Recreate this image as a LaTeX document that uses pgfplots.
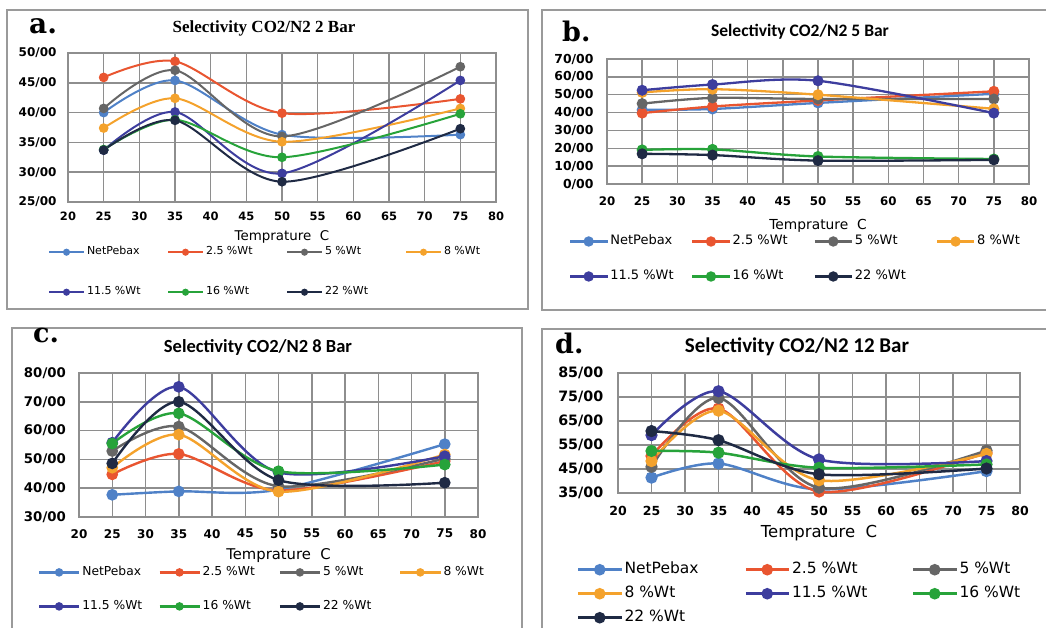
\documentclass[border=0pt]{standalone}
\usepackage{fontspec}
\setmainfont{DejaVu Sans}
\newfontfamily\serifb{Liberation Serif}
\newfontfamily\letf{DejaVu Serif}
\newfontfamily\carl{Carlito}
\usepackage{pgfplots}
\pgfplotsset{compat=1.18}
\newcommand\fs[1]{\fontsize{#1}{#1}\selectfont}
\definecolor{cNet}{HTML}{4F81C7}
\definecolor{cA}{HTML}{E95530}
\definecolor{cB}{HTML}{666666}
\definecolor{cC}{HTML}{F4A22C}
\definecolor{cD}{HTML}{3D3D9E}
\definecolor{cE}{HTML}{27A33A}
\definecolor{cF}{HTML}{1F2A44}
\definecolor{gridc}{HTML}{8E8E8E}
\definecolor{boxc}{HTML}{9A9A9A}
\pgfplotsset{
  panel/.style={
    scale only axis, anchor=south west,
    xmin=20, xmax=80, xtick={20,25,...,80},
    xticklabels={20,25,30,35,40,45,50,55,60,65,70,75,80},
    xmajorgrids=true, ymajorgrids=true,
    major grid style={draw=gridc, line width=1.5pt},
    axis line style={draw=gridc, line width=1.5pt},
    tick style={draw=none},
    clip=false,
    legend cell align=left,
    legend style={draw=none, fill=none, inner sep=0pt, outer sep=0pt, anchor=north west,
      /tikz/every odd column/.append style={column sep=2pt},
      nodes={inner sep=0pt}},
  },
  leg/.style n args={3}{legend image code/.code={\draw[mark repeat=2,mark phase=2,##1,mark size=#3] plot coordinates {(0pt,0pt) (#1,0pt) (#2,0pt)};}},
}
\begin{document}
\begin{tikzpicture}
\useasboundingbox (0pt,0pt) rectangle (1046pt,628pt);
% panel boxes
\draw[boxc, line width=1.5pt] (7pt,319pt) rectangle (528pt,618pt);
\draw[boxc, line width=1.5pt] (542pt,318pt) rectangle (1052pt,618pt);
\draw[boxc, line width=1.5pt] (12pt,-5pt) rectangle (522pt,300pt);
\draw[boxc, line width=1.5pt] (542pt,-5pt) rectangle (1052pt,299pt);

% ---------------- panel a
\begin{axis}[panel, at={(68pt,426pt)}, width=428pt, height=149pt,
  ymin=25, ymax=50, ytick={25,30,...,50},
  yticklabels={25/00,30/00,35/00,40/00,45/00,50/00},
  yticklabel style={font=\bfseries\fs{12}, xshift=-8pt},
  xticklabel style={font=\bfseries\fs{11.5}, yshift=-6.5pt},
  every axis plot/.append style={smooth, line width=2pt, mark=*, mark size=3.8pt},
  leg={17.5pt}{35pt}{2.5pt},
  legend columns=4,
  legend style={at={(-0.0467,-0.300)}, font=\fs{11},
    nodes={text height=8.25pt, text depth=2.75pt},
    /tikz/every even column/.append style={column sep=0pt},
    row sep=29pt},
]
\addplot[cNet] coordinates {(25,40.0) (35,45.4) (50,36.3) (75,36.3)};
\addplot[cA] coordinates {(25,45.9) (35,48.6) (50,39.9) (75,42.3)};
\addplot[cB] coordinates {(25,40.7) (35,47.1) (50,36.0) (75,47.7)};
\addplot[cC] coordinates {(25,37.4) (35,42.4) (50,35.1) (75,40.7)};
\addplot[cD] coordinates {(25,33.7) (35,40.1) (50,29.8) (75,45.4)};
\addplot[cE] coordinates {(25,33.8) (35,38.8) (50,32.5) (75,39.8)};
\addplot[cF] coordinates {(25,33.7) (35,38.7) (50,28.4) (75,37.3)};
\legend{\makebox[80pt][l]{NetPebax},\makebox[80pt][l]{2.5 \%Wt},\makebox[80pt][l]{5 \%Wt},\makebox[80pt][l]{8 \%Wt},\makebox[80pt][l]{11.5 \%Wt},\makebox[80pt][l]{16 \%Wt},\makebox[80pt][l]{22 \%Wt}}
\end{axis}
\node[anchor=base west, font=\letf\bfseries\fs{28}, inner sep=0pt] at (29pt,594pt) {a.};
\node[anchor=base, font=\serifb\bfseries\fs{17}, inner sep=0pt] at (264pt,595pt) {Selectivity CO2/N2 2 Bar};
\node[anchor=base, font=\fs{13.4}, inner sep=0pt] at (282pt,387pt) {Temprature~ C};

% ---------------- panel b
\begin{axis}[panel, at={(607pt,444pt)}, width=422pt, height=125pt,
  ymin=0, ymax=70, ytick={0,10,...,70},
  yticklabels={0/00,10/00,20/00,30/00,40/00,50/00,60/00,70/00},
  yticklabel style={font=\bfseries\fs{12.4}, xshift=-10pt},
  xticklabel style={font=\bfseries\fs{11.8}, yshift=-9.5pt},
  every axis plot/.append style={smooth, line width=2.3pt, mark=*, mark size=4.3pt},
  leg={18.5pt}{37pt}{4pt},
  legend columns=4,
  legend style={at={(-0.090,-0.408)}, font=\fs{13},
    nodes={text height=9.75pt, text depth=3.25pt},
    /tikz/every even column/.append style={column sep=0pt},
    row sep=22pt},
]
\addplot[cNet] coordinates {(25,41.5) (35,42.0) (50,45.4) (75,50.5)};
\addplot[cA] coordinates {(25,39.7) (35,43.4) (50,46.8) (75,51.9)};
\addplot[cB] coordinates {(25,45.0) (35,48.2) (50,47.6) (75,47.6)};
\addplot[cC] coordinates {(25,51.3) (35,53.1) (50,50.0) (75,42.1)};
\addplot[cD] coordinates {(25,52.5) (35,55.7) (50,57.8) (75,39.7)};
\addplot[cE] coordinates {(25,19.1) (35,19.4) (50,15.4) (75,14.0)};
\addplot[cF] coordinates {(25,16.9) (35,16.2) (50,13.1) (75,13.5)};
\legend{\makebox[81pt][l]{NetPebax},\makebox[81pt][l]{2.5 \%Wt},\makebox[81pt][l]{5 \%Wt},\makebox[81pt][l]{8 \%Wt},\makebox[81pt][l]{11.5 \%Wt},\makebox[81pt][l]{16 \%Wt},\makebox[81pt][l]{22 \%Wt}}
\end{axis}
\node[anchor=base west, font=\letf\bfseries\fs{27}, inner sep=0pt] at (562pt,586pt) {b.};
\node[anchor=base, font=\carl\bfseries\fs{17.5}, inner sep=0pt] at (800pt,591pt) {Selectivity CO2/N2 5 Bar};
\node[anchor=base, font=\fs{13.8}, inner sep=0pt] at (818pt,398pt) {Temprature~ C};

% ---------------- panel c
\begin{axis}[panel, at={(79pt,111pt)}, width=399pt, height=144pt,
  ymin=30, ymax=80, ytick={30,40,...,80},
  yticklabels={30/00,40/00,50/00,60/00,70/00,80/00},
  yticklabel style={font=\bfseries\fs{13.3}, xshift=-9.6pt},
  xticklabel style={font=\bfseries\fs{12}, yshift=-8.6pt},
  every axis plot/.append style={smooth, line width=2.4pt, mark=*, mark size=4.6pt},
  leg={20pt}{40pt}{3pt},
  legend columns=4,
  legend style={at={(-0.103,-0.342)}, font=\fs{12.3},
    nodes={text height=9.2pt, text depth=3.1pt},
    /tikz/every even column/.append style={column sep=0pt},
    row sep=21.7pt},
]
\addplot[cNet] coordinates {(25,37.7) (35,38.9) (50,39.5) (75,55.3)};
\addplot[cA] coordinates {(25,44.8) (35,51.9) (50,39.2) (75,49.4)};
\addplot[cB] coordinates {(25,52.9) (35,61.4) (50,40.7) (75,50.3)};
\addplot[cC] coordinates {(25,47.1) (35,58.6) (50,38.8) (75,51.7)};
\addplot[cD] coordinates {(25,55.8) (35,75.2) (50,45.5) (75,51.1)};
\addplot[cE] coordinates {(25,55.5) (35,66.0) (50,45.9) (75,48.2)};
\addplot[cF] coordinates {(25,48.6) (35,70.0) (50,42.8) (75,41.9)};
\legend{\makebox[76pt][l]{NetPebax},\makebox[76pt][l]{2.5 \%Wt},\makebox[76pt][l]{5 \%Wt},\makebox[76pt][l]{8 \%Wt},\makebox[76pt][l]{11.5 \%Wt},\makebox[76pt][l]{16 \%Wt},\makebox[76pt][l]{22 \%Wt}}
\end{axis}
\node[anchor=base west, font=\letf\bfseries\fs{27}, inner sep=0pt] at (33pt,285pt) {c.};
\node[anchor=base, font=\carl\bfseries\fs{18.5}, inner sep=0pt] at (258pt,275pt) {Selectivity CO2/N2 8 Bar};
\node[anchor=base, font=\fs{14.8}, inner sep=0pt] at (278.5pt,68pt) {Temprature~ C};

% ---------------- panel d
\begin{axis}[panel, at={(618pt,135pt)}, width=402pt, height=120pt,
  ymin=35, ymax=85, ytick={35,45,...,85},
  yticklabels={35/00,45/00,55/00,65/00,75/00,85/00},
  yticklabel style={font=\bfseries\fs{14.3}, xshift=-11.2pt},
  xticklabel style={font=\bfseries\fs{12.5}, yshift=-9.4pt},
  every axis plot/.append style={smooth, line width=2.5pt, mark=*, mark size=4.8pt},
  leg={21.5pt}{43pt}{4.5pt},
  legend columns=3,
  legend style={at={(-0.102,-0.575)}, font=\fs{15.5},
    nodes={text height=11.6pt, text depth=3.9pt},
    /tikz/every even column/.append style={column sep=0pt},
    row sep=8.5pt},
]
\addplot[cNet] coordinates {(25,41.4) (35,47.3) (50,36.5) (75,44.1)};
\addplot[cA] coordinates {(25,50.4) (35,70.2) (50,35.6) (75,51.8)};
\addplot[cB] coordinates {(25,45.9) (35,74.6) (50,37.2) (75,52.7)};
\addplot[cC] coordinates {(25,48.3) (35,69.3) (50,40.3) (75,51.3)};
\addplot[cD] coordinates {(25,59.1) (35,77.4) (50,49.0) (75,48.3)};
\addplot[cE] coordinates {(25,52.5) (35,51.8) (50,45.5) (75,46.9)};
\addplot[cF] coordinates {(25,60.8) (35,57.0) (50,42.8) (75,45.2)};
\legend{\makebox[120pt][l]{NetPebax},\makebox[120pt][l]{2.5 \%Wt},\makebox[120pt][l]{5 \%Wt},\makebox[120pt][l]{8 \%Wt},\makebox[120pt][l]{11.5 \%Wt},\makebox[120pt][l]{16 \%Wt},\makebox[120pt][l]{22 \%Wt}}
\end{axis}
\node[anchor=base west, font=\letf\bfseries\fs{27}, inner sep=0pt] at (555pt,274pt) {d.};
\node[anchor=base, font=\carl\bfseries\fs{21}, inner sep=0pt] at (797pt,275pt) {Selectivity CO2/N2 12 Bar};
\node[anchor=base, font=\fs{16.5}, inner sep=0pt] at (819pt,90pt) {Temprature~ C};
\end{tikzpicture}
\end{document}
